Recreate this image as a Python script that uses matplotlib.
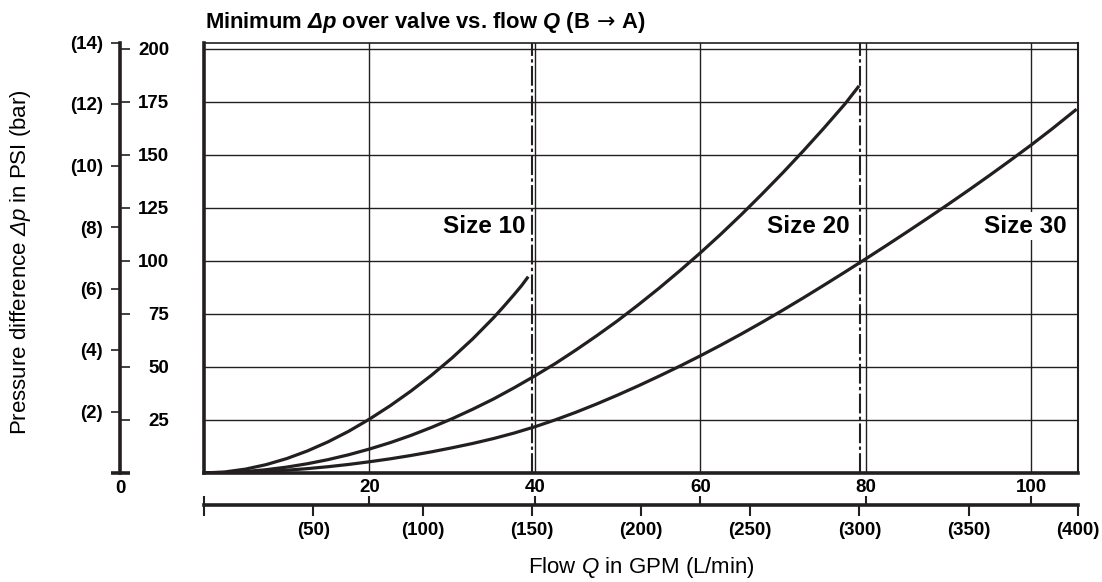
import matplotlib
matplotlib.use("Agg")
import matplotlib.pyplot as plt

plt.rcParams['font.family'] = ['Liberation Sans', 'DejaVu Sans']
plt.rcParams['mathtext.fontset'] = 'custom'
plt.rcParams['mathtext.it'] = 'Liberation Sans:italic:bold'
plt.rcParams['mathtext.rm'] = 'Liberation Sans:italic:bold'
plt.rcParams['mathtext.sf'] = 'Liberation Sans:italic'
plt.rcParams['mathtext.cal'] = 'DejaVu Sans'

# curves: flow in GPM, pressure drop in PSI
size10_q = [0, 2.5, 5, 7.5, 10, 12.5, 15, 17.5, 20, 22.5, 25, 27.5, 30,
            32.5, 35, 36.25, 37.5, 38.4, 39.2]
size10_dp = [0, 0.49, 1.82, 3.94, 6.8, 10.4, 14.7, 19.7, 25.4, 31.7, 38.6,
             46.1, 54.3, 63.3, 73.2, 78.6, 84.2, 88.4, 92.6]

size20_q = [0, 2.5, 5, 7.5, 10, 12.5, 15, 17.5, 20, 22.5, 25, 27.5, 30, 32.5,
            35, 37.5, 40, 42.5, 45, 47.5, 50, 52.5, 55, 57.5, 60, 62.5, 65,
            67.5, 70, 72.5, 75, 77.5, 79.2]
size20_dp = [0, 0.17, 0.69, 1.56, 2.78, 4.37, 6.31, 8.62, 11.3, 14.3, 17.7,
             21.5, 25.6, 30.1, 34.9, 40.2, 45.8, 51.7, 58.1, 64.8, 71.8, 79.3,
             87.1, 95.3, 103.8, 112.7, 122.0, 131.7, 141.7, 152.1, 162.9,
             174.1, 182.6]

size30_q = [0, 2.5, 5, 7.5, 10, 12.5, 15, 17.5, 20, 22.5, 25, 27.5, 30, 32.5,
            35, 37.5, 40, 42.5, 45, 47.5, 50, 52.5, 55, 57.5, 60, 62.5, 65,
            67.5, 70, 72.5, 75, 77.5, 80, 82.5, 85, 87.5, 90, 92.5, 95, 97.5,
            100, 102.5, 105.5]
size30_dp = [0, 0.08, 0.33, 0.74, 1.32, 2.06, 2.97, 4.04, 5.3, 6.68, 8.25,
             9.98, 11.9, 13.95, 16.25, 18.85, 21.8, 25.1, 28.7, 32.6, 36.75,
             41.1, 45.65, 50.35, 55.25, 60.35, 65.65, 71.15, 76.85, 82.7, 88.7,
             94.8, 101.0, 107.3, 113.7, 120.2, 126.8, 133.55, 140.45, 147.5,
             154.7, 162.2, 171.6]

size_names = ['Size 10', 'Size 20', 'Size 30']
size_limits_lpm = [150, 300]          # dash-dot limits, L/min

psi_ticks = [25, 50, 75, 100, 125, 150, 175, 200]
bar_ticks = [2, 4, 6, 8, 10, 12, 14]
gpm_ticks = [20, 40, 60, 80, 100]
lpm_ticks = [50, 100, 150, 200, 250, 300, 350, 400]

LPM_PER_GPM = 3.78541
PSI_PER_BAR = 14.5038
q_max = 400 / LPM_PER_GPM
dp_max = 14 * PSI_PER_BAR

INK = '#231f20'
W, H = 1102, 582


def fx(px):
    return px / W


def fy(py):
    return 1 - py / H


fig = plt.figure(figsize=(W / 100, H / 100), dpi=100)

# main plot area
ax = fig.add_axes([fx(204), fy(473), (1078 - 204) / W, (473 - 42.5) / H])
ax.set_xlim(0, q_max)
ax.set_ylim(0, dp_max)
ax.set_xticks(gpm_ticks)
ax.set_yticks(psi_ticks)
ax.grid(True, color=INK, lw=1.0)
ax.set_axisbelow(True)
ax.tick_params(length=0, labelbottom=False, labelleft=False)
for side, lw in [('left', 2.6), ('bottom', 2.6), ('top', 1.2), ('right', 1.5)]:
    ax.spines[side].set_linewidth(lw)
    ax.spines[side].set_color(INK)

for q, dp in [(size10_q, size10_dp), (size20_q, size20_dp), (size30_q, size30_dp)]:
    ax.plot(q, dp, color=INK, lw=2.3, zorder=5, solid_capstyle='butt',
            solid_joinstyle='round')

for lim in size_limits_lpm:
    line = ax.axvline(lim / LPM_PER_GPM, color=INK, lw=1.5, zorder=4)
    line.set_dashes((9.5, 1.6, 1.6, 1.6))

label_pos = [(38.9, 116.5), (78.1, 116.5), (104.3, 116.5)]
for name, (lx, ly) in zip(size_names, label_pos):
    ax.text(lx, ly, name, ha='right', va='center', fontsize=17.5,
            fontweight='bold', color='black', zorder=3,
            bbox=dict(fc='white', ec='none', pad=2))

# left pressure scale (PSI inside, bar outside)
ax_y = fig.add_axes([fx(120), fy(473), 10 / W, (473 - 42.5) / H])
ax_y.set_ylim(0, dp_max)
ax_y.set_xlim(0, 1)
ax_y.patch.set_visible(False)
for side in ['right', 'top', 'bottom']:
    ax_y.spines[side].set_visible(False)
ax_y.spines['left'].set_linewidth(2.6)
ax_y.spines['left'].set_color(INK)
ax_y.xaxis.set_visible(False)

ax_b = ax_y.twinx()
ax_b.set_ylim(0, 14)
ax_b.patch.set_visible(False)
for side in ax_b.spines:
    ax_b.spines[side].set_visible(False)
ax_b.xaxis.set_visible(False)
ax_b.yaxis.tick_left()
ax_b.set_yticks(bar_ticks)
ax_b.set_yticklabels([f'({t})' for t in bar_ticks], fontweight='bold')
ax_b.tick_params(axis='y', direction='out', length=6.5, width=1.2, color=INK,
                 pad=6, labelsize=13.5)

ax_y.yaxis.tick_left()
ax_y.set_yticks(psi_ticks)
ax_y.set_yticklabels([str(t) for t in psi_ticks], fontweight='bold')
ax_y.tick_params(axis='y', direction='in', length=7.5, width=1.2, color=INK,
                 pad=-35.3, labelsize=13.5)
ax_y.plot([-0.9, 1.0], [0, 0], transform=ax_y.get_yaxis_transform(),
          color=INK, lw=2.6, clip_on=False, solid_capstyle='butt')
ax_y.annotate('0', xy=(0, 0), xycoords=('axes fraction', 'data'),
              xytext=(0, -11), textcoords='offset points', ha='center',
              va='center', fontsize=13.5, fontweight='bold')

# bottom flow scale (GPM above, L/min below)
ax_x = fig.add_axes([fx(204), fy(505), (1078 - 204) / W, 0.001])
ax_l = ax_x.twiny()

ax_x.set_xlim(0, q_max)
ax_x.patch.set_visible(False)
for side in ax_x.spines:
    ax_x.spines[side].set_visible(False)
ax_x.spines['bottom'].set_visible(True)
ax_x.spines['bottom'].set_linewidth(2.6)
ax_x.spines['bottom'].set_color(INK)
ax_x.yaxis.set_visible(False)
ax_x.xaxis.set_ticks_position('top')
ax_x.xaxis.set_label_position('top')
ax_x.set_xticks([0] + gpm_ticks)
ax_x.set_xticklabels([''] + [str(t) for t in gpm_ticks], fontweight='bold')
ax_x.tick_params(axis='x', top=True, bottom=False, labeltop=True,
                 labelbottom=False, direction='out', length=5.8, width=1.5,
                 color=INK, pad=0, labelsize=13.5)

ax_l.set_xlim(0, 400)
ax_l.patch.set_visible(False)
for side in ax_l.spines:
    ax_l.spines[side].set_visible(False)
ax_l.yaxis.set_visible(False)
ax_l.xaxis.set_ticks_position('bottom')
ax_l.xaxis.set_label_position('bottom')
ax_l.set_xticks([0] + lpm_ticks)
ax_l.set_xticklabels([''] + [f'({t})' for t in lpm_ticks], fontweight='bold')
ax_l.tick_params(axis='x', top=False, bottom=True, labeltop=False,
                 labelbottom=True, direction='out', length=8, width=1.5,
                 color=INK, pad=4, labelsize=13.5)

# titles
fig.text(fx(205), fy(28),
         r'Minimum $\Delta p$ over valve vs. flow $Q$ (B$\,\mathcal{\rightarrow}\,$A)',
         fontsize=15.8, fontweight='bold', ha='left', va='baseline')
fig.text(fx(641), fy(568), r'Flow $\mathsf{Q}$ in GPM (L/min)',
         fontsize=16, ha='center', va='center')
fig.text(fx(21), fy(262), r'Pressure difference $\mathsf{\Delta p}$ in PSI (bar)',
         fontsize=16, rotation=90, ha='center', va='center')

fig.savefig('out.png', dpi=100)
